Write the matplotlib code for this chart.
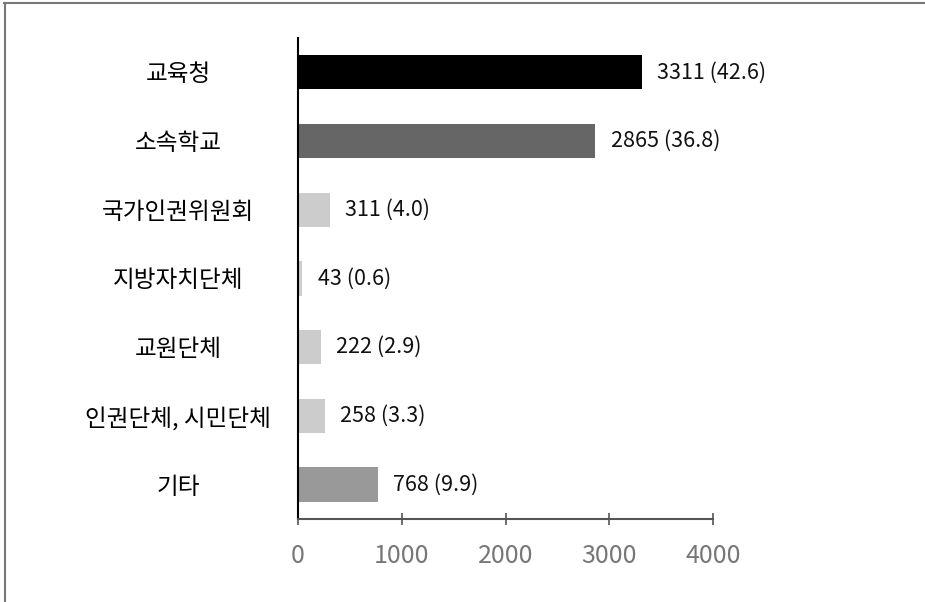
import numpy as np
import matplotlib.pyplot as plt
from matplotlib.lines import Line2D

plt.rcParams['font.family'] = ['Noto Sans CJK KR', 'DejaVu Sans']

categories = ['교육청', '소속학교', '국가인권위원회', '지방자치단체', '교원단체', '인권단체, 시민단체', '기타']
counts = [3311, 2865, 311, 43, 222, 258, 768]
percents = [42.6, 36.8, 4.0, 0.6, 2.9, 3.3, 9.9]
colors = ['#000000', '#666666', '#cccccc', '#cccccc', '#cccccc', '#cccccc', '#999999']
xticks = [0, 1000, 2000, 3000, 4000]

fig = plt.figure(figsize=(9.25, 6.02), dpi=100)
ax = fig.add_axes([0.322, 0.138, 0.449, 0.799])

y = np.arange(len(categories))
ax.barh(y, counts, height=0.5, color=colors)

for yi, c, p in zip(y, counts, percents):
    ax.annotate(f'{c} ({p})', (c, yi), xytext=(11, 0), textcoords='offset points',
                va='center', ha='left', fontsize=15.5, color='#111111')

ax.set_ylim(len(categories) - 0.5, -0.5)
ax.set_xlim(0, 4000)
ax.set_yticks(y)
ax.set_yticklabels(categories, fontsize=17, ha='center')
ax.tick_params(axis='y', length=0, pad=86)
ax.set_xticks(xticks)
ax.set_xticklabels([str(t) for t in xticks], fontsize=18, color='#777777', fontweight='light')
ax.tick_params(axis='x', direction='inout', length=8, width=1.2, color='#555555', pad=13)

for s in ['top', 'right']:
    ax.spines[s].set_visible(False)
ax.spines['left'].set_color('black')
ax.spines['left'].set_linewidth(1.5)
ax.spines['bottom'].set_color('#555555')
ax.spines['bottom'].set_linewidth(1.5)

# frame lines at top and left of the picture
fig.add_artist(Line2D([0.004, 1], [0.995, 0.995], transform=fig.transFigure, color='#777777', lw=1.5))
fig.add_artist(Line2D([0.005, 0.005], [0, 0.995], transform=fig.transFigure, color='#777777', lw=1.5))

fig.savefig('out.png', dpi=100, facecolor='white')
